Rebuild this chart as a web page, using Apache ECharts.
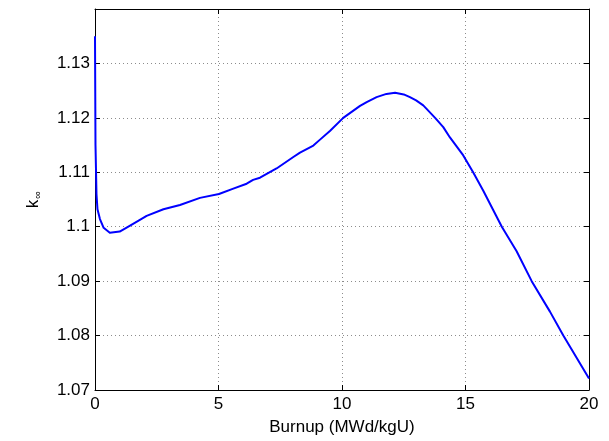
<!DOCTYPE html>
<html>
<head>
    <meta charset="utf-8">
    <title>k-inf vs burnup</title>
    <script src="https://cdn.jsdelivr.net/npm/echarts@6/dist/echarts.min.js"></script>
    <style type="text/css">
        html, body { margin: 0; padding: 0; background: #fff; }
        #chart { width: 609px; height: 441px; }
    </style>
</head>
<body>
<div id="chart"></div>
<script>
    // values
    var burnup = [0, 0.02, 0.06, 0.1, 0.2, 0.35, 0.6, 1.0, 1.42, 1.8, 2.09, 2.77, 3.44, 4.25, 5.02, 5.6, 6.14, 6.4,
        6.68, 7.35, 8.03, 8.3, 8.84, 9.11, 9.51, 10.05, 10.73, 11.0, 11.4, 11.8, 12.15, 12.5, 12.75, 13.0, 13.29,
        13.77, 14.1, 14.37, 14.91, 15.32, 15.72, 16.47, 17.07, 17.68, 18.42, 18.96, 20];
    var kinf = [1.135, 1.115, 1.106, 1.1032, 1.1014, 1.0998, 1.0989, 1.0991, 1.1002, 1.1012, 1.1020, 1.1032, 1.1040,
        1.1053, 1.1060, 1.1070, 1.1079, 1.1086, 1.1090, 1.1107, 1.1128, 1.1136, 1.1149, 1.1160, 1.1176, 1.1200,
        1.1222, 1.1229, 1.1238, 1.1244, 1.1246, 1.1243, 1.1238, 1.1232, 1.1223, 1.1200, 1.1183, 1.1164, 1.1131,
        1.1099, 1.1066, 1.1000, 1.0955, 1.0900, 1.0844, 1.0800, 1.0721];
    var xTicks = [0, 5, 10, 15, 20];
    var yTicks = [1.07, 1.08, 1.09, 1.1, 1.11, 1.12, 1.13];

    var font = 'Liberation Sans, Arial, Helvetica, sans-serif';
    var points = burnup.map(function (b, i) { return [b, kinf[i]]; });

    var gridLine = { show: true, lineStyle: { color: '#8c8c8c', type: [1, 3], width: 1 } };
    var frame = { show: true, onZero: false, lineStyle: { color: '#000', width: 1 } };
    var tick = { show: true, inside: true, length: 5, lineStyle: { color: '#000' } };

    var chart = echarts.init(document.getElementById('chart'));
    var option = {
        animation: false,
        grid: { left: 95, right: 20, top: 9, bottom: 42 },
        xAxis: [{
            type: 'value', min: xTicks[0], max: xTicks[xTicks.length - 1], interval: 5,
            axisLine: frame, axisTick: tick, splitLine: gridLine,
            axisLabel: { color: '#000', fontFamily: font, fontSize: 17, margin: 6 },
            name: 'Burnup (MWd/kgU)', nameLocation: 'middle', nameGap: 29,
            nameTextStyle: { color: '#000', fontFamily: font, fontSize: 17 }
        }, {
            type: 'value', position: 'top', min: 0, max: 20, interval: 5,
            axisLine: frame, axisTick: tick, splitLine: { show: false }, axisLabel: { show: false }
        }],
        yAxis: [{
            type: 'value', min: 1.07, max: 1.14, interval: 0.01,
            axisLine: frame, axisTick: tick, splitLine: gridLine,
            axisLabel: {
                color: '#000', fontFamily: font, fontSize: 17, margin: 5,
                formatter: function (v) {
                    return yTicks.some(function (t) { return Math.abs(t - v) < 1e-6; }) ? String(+v.toFixed(2)) : '';
                }
            },
            name: 'k{s|∞}', nameLocation: 'middle', nameGap: 52, nameRotate: 90,
            nameTextStyle: {
                color: '#000', fontFamily: font, fontSize: 17,
                rich: { s: { fontSize: 11, fontFamily: font, color: '#000', verticalAlign: 'bottom', padding: [9, 0, 0, 1] } }
            }
        }, {
            type: 'value', position: 'right', min: 1.07, max: 1.14, interval: 0.01,
            axisLine: frame, axisTick: tick, splitLine: { show: false }, axisLabel: { show: false }
        }],
        series: [{
            type: 'line',
            data: points,
            showSymbol: false,
            smooth: false,
            lineStyle: { color: '#0000ff', width: 2, join: 'round' },
            itemStyle: { color: '#0000ff' }
        }]
    };
    chart.setOption(option);
</script>
</body>
</html>
